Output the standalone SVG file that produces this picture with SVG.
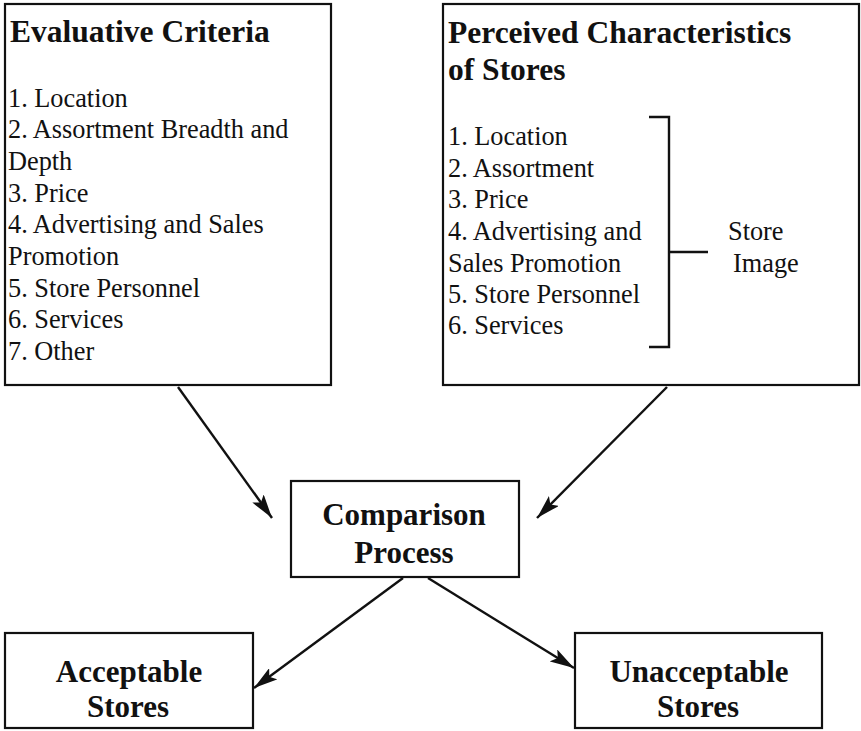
<svg xmlns="http://www.w3.org/2000/svg" width="861" height="731" viewBox="0 0 861 731">
<defs>
<style>
.box{fill:#fff;stroke:#111;stroke-width:2.2}
.t{font-family:"Liberation Serif","Times New Roman",serif;fill:#111}
.h{font-size:31.5px;font-weight:bold}
.b{font-size:26.3px}
.c{font-size:31px;font-weight:bold;text-anchor:middle}
.ln{stroke:#111;stroke-width:2.4;fill:none}
</style>
<marker id="ah" viewBox="0 0 24 14" refX="24" refY="7" markerWidth="24" markerHeight="14" markerUnits="userSpaceOnUse" orient="auto">
<path d="M0,0 L24,7 L0,14 L5,7 Z" fill="#111"/>
</marker>
</defs>
<rect width="861" height="731" fill="#fff"/>
<g id="evaluative-criteria">
<rect class="box" x="5" y="4" width="326" height="381"/>
<text class="t h" x="10" y="42">Evaluative Criteria</text>
<text class="t b" x="8" y="107">1. Location</text>
<text class="t b" x="8" y="138">2. Assortment Breadth and</text>
<text class="t b" x="8" y="170">Depth</text>
<text class="t b" x="8" y="202">3. Price</text>
<text class="t b" x="8" y="233">4. Advertising and Sales</text>
<text class="t b" x="8" y="265">Promotion</text>
<text class="t b" x="8" y="297">5. Store Personnel</text>
<text class="t b" x="8" y="328">6. Services</text>
<text class="t b" x="8" y="360">7. Other</text>
</g>
<g id="perceived-characteristics">
<rect class="box" x="443" y="4" width="416" height="381"/>
<text class="t h" x="448" y="43">Perceived Characteristics</text>
<text class="t h" x="448" y="80">of Stores</text>
<text class="t b" x="448" y="145">1. Location</text>
<text class="t b" x="448" y="177">2. Assortment</text>
<text class="t b" x="448" y="208">3. Price</text>
<text class="t b" x="448" y="240">4. Advertising and</text>
<text class="t b" x="448" y="272">Sales Promotion</text>
<text class="t b" x="448" y="303">5. Store Personnel</text>
<text class="t b" x="448" y="334">6. Services</text>
<path class="ln" d="M649,117 H669 V347 H649 M669,252 H708"/>
<text class="t b" x="728" y="240">Store</text>
<text class="t b" x="733" y="272">Image</text>
</g>
<g id="comparison-process">
<rect class="box" x="291" y="481" width="228" height="96"/>
<text class="t c" x="404" y="525">Comparison</text>
<text class="t c" x="404" y="563">Process</text>
</g>
<g id="acceptable-stores">
<rect class="box" x="5" y="633" width="248" height="95"/>
<text class="t c" x="129" y="682">Acceptable</text>
<text class="t c" x="128" y="717">Stores</text>
</g>
<g id="unacceptable-stores">
<rect class="box" x="575" y="633" width="247" height="95"/>
<text class="t c" x="699" y="682">Unacceptable</text>
<text class="t c" x="698" y="717">Stores</text>
</g>
<g id="connectors">
<line class="ln" x1="178" y1="387" x2="272" y2="518" marker-end="url(#ah)"/>
<line class="ln" x1="667" y1="387" x2="537" y2="518" marker-end="url(#ah)"/>
<line class="ln" x1="403" y1="578" x2="254" y2="688" marker-end="url(#ah)"/>
<line class="ln" x1="428" y1="578" x2="574" y2="668" marker-end="url(#ah)"/>
</g>
</svg>
